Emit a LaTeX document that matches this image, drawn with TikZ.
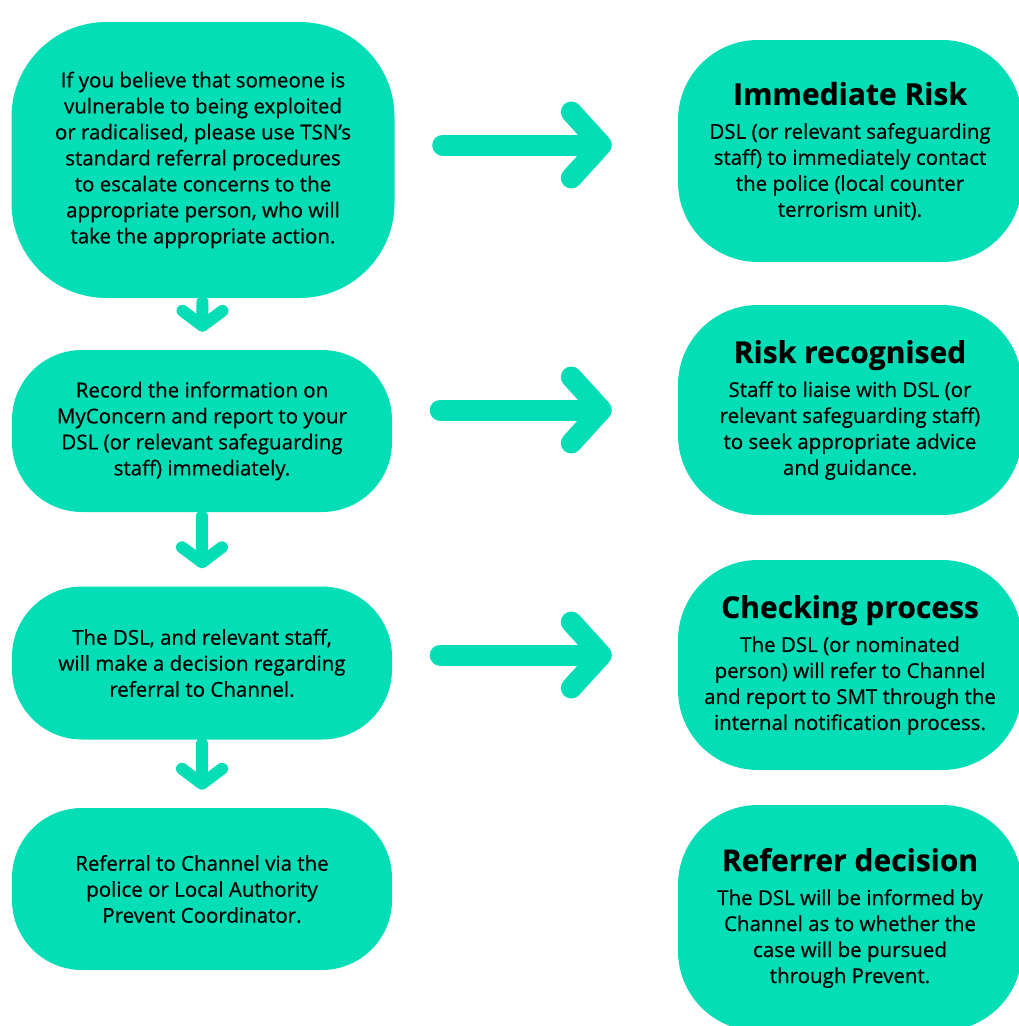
\documentclass[tikz,border=0pt]{standalone}
\usepackage{fontspec}
\setmainfont{Open Sans}
\usetikzlibrary{arrows.meta}
\definecolor{tsngreen}{HTML}{04DEB6}
\tikzset{
  blob/.style={fill=tsngreen, rounded corners=70pt, align=center, inner sep=0pt,
    font=\fontsize{20.5}{26}\selectfont\addfontfeature{FakeBold=0.6}},
  bigarrow/.style={draw=tsngreen, line width=21pt, line cap=round,
    -{Straight Barb[length=30pt, width=66pt, round]}, shorten <=48pt, shorten >=66pt},
  downarrow/.style={draw=tsngreen, line width=12pt, line cap=round,
    -{Straight Barb[length=15pt, width=40pt, round]}, shorten <=4pt, shorten >=18pt}
}
\newcommand{\boxtitle}[1]{{\fontsize{30}{34}\selectfont\bfseries #1}\\[8pt]}
\begin{document}
\begin{tikzpicture}[x=1pt,y=-1pt]
\useasboundingbox (0,0) rectangle (1019,1026);
\clip (0,0) rectangle (1019,1026);
\fill[white] (0,0) rectangle (1019,1026);

\node[blob, minimum width=383pt, minimum height=276pt, rounded corners=95pt] (concern) at (203,160)
  {If you believe that someone is\\ vulnerable to being exploited\\ or radicalised, please use TSN’s\\
   standard referral procedures\\ to escalate concerns to the\\ appropriate person, who will\\
   take the appropriate action.};
\node[blob, minimum width=380pt, minimum height=162pt] (record) at (202,431)
  {Record the information on\\ MyConcern and report to your\\ DSL (or relevant safeguarding\\ staff) immediately.};
\node[blob, minimum width=380pt, minimum height=153pt] (decision) at (202,663)
  {The DSL, and relevant staff,\\ will make a decision regarding\\ referral to Channel.};
\node[blob, minimum width=380pt, minimum height=162pt] (referral) at (202,889)
  {Referral to Channel via the\\ police or Local Authority\\ Prevent Coordinator.};

\node[blob, minimum width=344pt, minimum height=222pt, rounded corners=80pt] (immediate) at (850,151)
  {\boxtitle{Immediate Risk}DSL (or relevant safeguarding\\ staff) to immediately contact\\ the police (local counter\\ terrorism unit).};
\node[blob, minimum width=344pt, minimum height=210pt, rounded corners=80pt] (recognised) at (850,410)
  {\boxtitle{Risk recognised}Staff to liaise with DSL (or\\ relevant safeguarding staff)\\ to seek appropriate advice\\ and guidance.};
\node[blob, minimum width=344pt, minimum height=210pt, rounded corners=80pt] (checking) at (850,665)
  {\boxtitle{Checking process}The DSL (or nominated\\ person) will refer to Channel\\ and report to SMT through the\\ internal notification process.};
\node[blob, minimum width=344pt, minimum height=226pt, rounded corners=80pt] (referrer) at (850,918)
  {\boxtitle{Referrer decision}The DSL will be informed by\\ Channel as to whether the\\ case will be pursued\\ through Prevent.};

\draw[downarrow] (concern) -- (record);
\draw[downarrow] (record) -- (decision);
\draw[downarrow] (decision) -- (referral);

\draw[bigarrow] (concern.east |- immediate.west) ++(0,-6) coordinate (a1) (a1) -- ([yshift=6pt]immediate.west);
\draw[bigarrow] (record.east |- recognised.west) -- (recognised.west);
\draw[bigarrow] (decision.east |- checking.west) ++(0,-10) coordinate (a3) (a3) -- ([yshift=10pt]checking.west);
\end{tikzpicture}
\end{document}
